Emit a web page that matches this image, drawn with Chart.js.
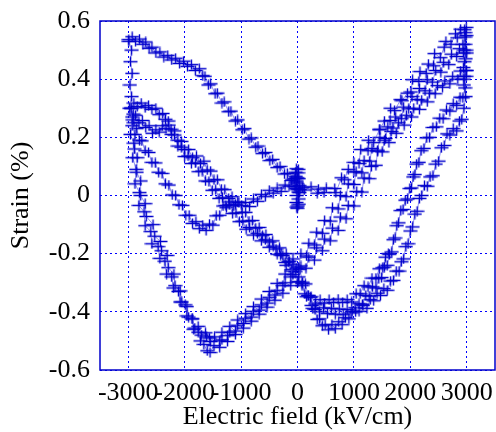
<!DOCTYPE html>
<html>
<head>
<meta charset="utf-8">
<script src="https://cdn.jsdelivr.net/npm/chart.js@4/dist/chart.umd.min.js"></script>
<style>
  html, body { margin: 0; padding: 0; background: #ffffff; }
  #wrap { width: 496px; height: 432px; }
</style>
</head>
<body>
<div id="wrap"><canvas id="c" width="496" height="432"></canvas></div>
<script>
// Butterfly strain loop: electric field (kV/cm) vs strain (%), each branch as [field, strain] pairs.
const xTicks = [-3000, -2000, -1000, 0, 1000, 2000, 3000];
const yTicks = [-0.6, -0.4, -0.2, 0, 0.2, 0.4, 0.6];

const originCluster = [
  [-20,0.092],[10,0.078],[-30,0.066],[25,0.058],[-15,0.046],[30,0.034],[-25,0.024],[15,0.012],
  [-10,0.0],[20,-0.012],[-20,-0.024],[5,-0.036],[-5,-0.044],[40,0.02],[-45,0.03],[0,0.06]
];

const virginRise = [
  [0,0.03],[-35,0.08],[25,-0.03],[-20,0.06],[35,0.01],[-10,-0.04],[15,0.09],[-5,0.02],[90,0.027],
  [120,0.019],[240,0.03],[350,0.008],[370,0.022],[470,0.01],[510,0.026],[660,0.024],[680,0.01],
  [780,0.061],[830,0.054],[900,0.09],[1000,0.081],[1000,0.114],[1090,0.11],[1120,0.158],[1250,0.154],
  [1260,0.19],[1350,0.182],[1450,0.226],[1460,0.228],[1540,0.256],[1640,0.258],[1650,0.3],
  [1720,0.292],[1830,0.33],[1850,0.326],[1950,0.352],[2010,0.356],[2040,0.398],[2150,0.392],
  [2170,0.426],[2280,0.42],[2320,0.452],[2410,0.446],[2430,0.488],[2530,0.474],[2600,0.51],
  [2630,0.53],[2720,0.52],[2800,0.556],[2830,0.542],[2890,0.572],[2970,0.56],[2990,0.578]
];

const fallMid = [
  [2970,0.545],[2930,0.52],[2990,0.5],[2940,0.49],[2870,0.505],[2820,0.478],[2730,0.486],[2680,0.45],
  [2590,0.458],[2540,0.424],[2450,0.43],[2390,0.39],[2300,0.398],[2260,0.36],[2160,0.368],[2120,0.33],
  [2030,0.34],[1970,0.298],[1880,0.304],[1840,0.264],[1740,0.27],[1690,0.232],[1600,0.236],[1560,0.196],
  [1460,0.2],[1420,0.156],[1320,0.162],[1280,0.118],[1180,0.12],[1140,0.078],[1040,0.082],[1000,0.038],
  [900,0.04],[860,-0.004],[760,0.0],[720,-0.046],[620,-0.042],[580,-0.088],[480,-0.086],[440,-0.13],
  [340,-0.126],[300,-0.17],[200,-0.164],[160,-0.208],[60,-0.2],[20,-0.246],[-80,-0.236],[-120,-0.28],
  [-220,-0.27],[-260,-0.31],[-360,-0.302],[-400,-0.342],[-500,-0.33],[-540,-0.37],[-640,-0.356],
  [-680,-0.394],[-780,-0.382],[-820,-0.418],[-920,-0.406],[-960,-0.44],[-1060,-0.428],[-1100,-0.466],
  [-1200,-0.45],[-1240,-0.482],[-1340,-0.47],[-1380,-0.5],[-1470,-0.486],[-1540,-0.502],[-1610,-0.486]
];

const fallLow = [
  [2990,0.43],[2950,0.41],[2890,0.428],[2840,0.4],[2750,0.41],[2700,0.384],[2610,0.394],[2570,0.372],
  [2480,0.378],[2440,0.35],[2340,0.352],[2300,0.322],[2200,0.328],[2160,0.296],[2060,0.3],[2020,0.27],
  [1930,0.276],[1890,0.242],[1790,0.25],[1750,0.214],[1660,0.22],[1620,0.182],[1540,0.19],[1500,0.15],
  [1420,0.152],[1390,0.104],[1310,0.1],[1270,0.058],[1180,0.06],[1140,0.012],[1050,0.014],[1000,-0.036],
  [900,-0.034],[860,-0.08],[760,-0.074],[720,-0.12],[620,-0.112],[580,-0.156],[480,-0.15],[440,-0.19],
  [340,-0.18],[300,-0.222],[200,-0.212],[150,-0.25],[60,-0.242],[20,-0.28],[-80,-0.272],[-120,-0.31],
  [-220,-0.3],[-260,-0.336],[-360,-0.326],[-400,-0.36],[-500,-0.35],[-540,-0.384],[-640,-0.376],
  [-680,-0.408],[-780,-0.398],[-820,-0.432],[-920,-0.422],[-960,-0.456],[-1060,-0.446],[-1100,-0.478],
  [-1200,-0.47],[-1240,-0.502],[-1340,-0.496],[-1380,-0.522],[-1480,-0.516],[-1550,-0.54]
];

const riseLeftOuter = [
  [-1600,-0.534],[-1660,-0.512],[-1720,-0.5],[-1760,-0.47],[-1840,-0.46],[-1870,-0.424],[-1960,-0.414],
  [-1990,-0.376],[-2080,-0.366],[-2110,-0.33],[-2200,-0.318],[-2230,-0.28],[-2320,-0.27],[-2350,-0.226],
  [-2440,-0.216],[-2470,-0.176],[-2580,-0.166],[-2600,-0.124],[-2700,-0.104],[-2720,-0.056],
  [-2810,-0.034],[-2800,0.01],[-2880,0.04],[-2860,0.09],[-2920,0.13],[-2900,0.18],[-2960,0.21],
  [-2920,0.26],[-2980,0.3],[-2940,0.34],[-2970,0.38],[-2930,0.42],[-2960,0.46],[-2940,0.5],[-2990,0.53]
];

const topLeftOuter = [
  [-2990,0.536],[-2930,0.546],[-2870,0.53],[-2800,0.538],[-2740,0.52],[-2690,0.528],[-2630,0.506],
  [-2580,0.51],[-2510,0.49],[-2440,0.494],[-2370,0.476],[-2300,0.482],[-2230,0.466],[-2160,0.472],
  [-2090,0.454],[-2020,0.462],[-1950,0.444],[-1880,0.45],[-1810,0.43],[-1740,0.436],[-1680,0.412],
  [-1640,0.41],[-1580,0.38],[-1540,0.384],[-1460,0.35],[-1420,0.352],[-1340,0.318],[-1300,0.322],
  [-1220,0.288],[-1180,0.29],[-1100,0.256],[-1060,0.26],[-980,0.226],[-940,0.23],[-860,0.194],
  [-820,0.198],[-740,0.166],[-700,0.17],[-620,0.144],[-570,0.148],[-490,0.12],[-440,0.124],
  [-360,0.096],[-310,0.1],[-230,0.074],[-180,0.076],[-110,0.052],[-50,0.058],[0,0.04]
];

const riseLeftInner = [
  [-1560,-0.49],[-1630,-0.472],[-1700,-0.48],[-1760,-0.45],[-1820,-0.456],[-1860,-0.424],[-1930,-0.418],
  [-1960,-0.382],[-2050,-0.366],[-2080,-0.328],[-2170,-0.31],[-2190,-0.27],[-2290,-0.248],[-2310,-0.206],
  [-2410,-0.19],[-2430,-0.158],[-2530,-0.14],[-2560,-0.1],[-2680,-0.072],[-2700,-0.028],[-2780,0.0],
  [-2780,0.05],[-2850,0.08],[-2840,0.13],[-2890,0.16],[-2880,0.21],[-2930,0.24],[-2910,0.28],[-2950,0.3]
];

const diagUpper = [
  [-2950,0.3],[-2900,0.318],[-2840,0.306],[-2770,0.318],[-2700,0.302],[-2640,0.31],[-2580,0.296],
  [-2510,0.3],[-2450,0.278],[-2390,0.282],[-2340,0.262],[-2290,0.256],[-2240,0.228],[-2180,0.222],
  [-2120,0.19],[-2060,0.186],[-2000,0.158],[-1930,0.158],[-1860,0.13],[-1790,0.136],[-1720,0.11],
  [-1660,0.118],[-1600,0.088],[-1540,0.084],[-1480,0.054],[-1420,0.054],[-1350,0.022],[-1290,0.02],
  [-1220,-0.01],[-1160,-0.004],[-1100,-0.03],[-1040,-0.024],[-980,-0.058],[-920,-0.058],[-860,-0.088],
  [-800,-0.086],[-740,-0.112],[-680,-0.11],[-620,-0.138],[-560,-0.134],[-500,-0.16],[-440,-0.156],
  [-380,-0.184],[-320,-0.18],[-260,-0.206],[-200,-0.2],[-140,-0.226],[-80,-0.218],[-20,-0.25],
  [40,-0.254],[90,-0.298],[140,-0.304],[190,-0.344],[230,-0.35],[270,-0.388],[310,-0.392],[350,-0.426],
  [390,-0.424],[440,-0.448],[490,-0.444],[550,-0.462],[610,-0.444],[670,-0.458],[730,-0.434],[790,-0.444],
  [850,-0.42],[910,-0.424],[970,-0.398],[1030,-0.4],[1090,-0.372],[1150,-0.374],[1210,-0.344],
  [1270,-0.346],[1330,-0.314],[1390,-0.318],[1440,-0.286],[1490,-0.282],[1540,-0.246],[1590,-0.24],
  [1630,-0.202],[1670,-0.194],[1700,-0.152],[1730,-0.146],[1760,-0.104],[1790,-0.094],[1830,-0.052],
  [1870,-0.048],[1910,-0.016],[1950,-0.012],[1990,0.024],[2020,0.026],[2050,0.064],[2080,0.072],
  [2110,0.108],[2150,0.114],[2190,0.154],[2240,0.162],[2290,0.198],[2340,0.2],[2400,0.234],[2460,0.236],
  [2520,0.266],[2580,0.264],[2640,0.294],[2700,0.29],[2760,0.316],[2820,0.31],[2880,0.338],[2930,0.336],
  [2970,0.37],[2950,0.4],[2990,0.43],[2960,0.46],[3000,0.49],[2970,0.52],[2990,0.55],[2960,0.57]
];

const diagLower = [
  [-2930,0.27],[-2870,0.276],[-2810,0.25],[-2750,0.258],[-2690,0.234],[-2630,0.24],[-2570,0.214],
  [-2510,0.226],[-2450,0.218],[-2390,0.24],[-2330,0.23],[-2280,0.242],[-2230,0.21],[-2180,0.208],
  [-2120,0.17],[-2060,0.166],[-2000,0.134],[-1940,0.136],[-1880,0.11],[-1810,0.112],[-1750,0.082],
  [-1690,0.084],[-1630,0.05],[-1570,0.048],[-1510,0.018],[-1450,0.02],[-1390,-0.01],[-1330,-0.006],
  [-1270,-0.034],[-1210,-0.032],[-1150,-0.062],[-1090,-0.06],[-1030,-0.09],[-970,-0.088],[-910,-0.116],
  [-850,-0.11],[-780,-0.136],[-710,-0.13],[-640,-0.156],[-570,-0.152],[-500,-0.178],[-430,-0.174],
  [-360,-0.202],[-290,-0.2],[-220,-0.23],[-160,-0.228],[-100,-0.26],[-40,-0.262],[20,-0.296],[80,-0.302],
  [130,-0.338],[190,-0.344],[250,-0.378],[320,-0.376],[390,-0.4],[460,-0.386],[530,-0.406],[600,-0.388],
  [670,-0.408],[740,-0.39],[810,-0.41],[880,-0.392],[950,-0.404],[1020,-0.386],[1090,-0.398],
  [1160,-0.378],[1230,-0.388],[1290,-0.358],[1350,-0.362],[1410,-0.336],[1470,-0.344],[1530,-0.32],
  [1590,-0.326],[1650,-0.294],[1700,-0.292],[1750,-0.26],[1800,-0.26],[1840,-0.228],[1880,-0.218],
  [1920,-0.176],[1960,-0.166],[2000,-0.122],[2040,-0.108],[2080,-0.064],[2120,-0.054],[2160,-0.01],
  [2200,0.0],[2250,0.034],[2300,0.032],[2350,0.064],[2400,0.068],[2450,0.108],[2500,0.118],[2550,0.164],
  [2600,0.172],[2650,0.212],[2700,0.208],[2760,0.23],[2820,0.222],[2870,0.256],[2910,0.262],[2950,0.3],
  [2980,0.34],[2950,0.38],[2990,0.41],[2940,0.44],[2980,0.47],[2950,0.5]
];

const dipInner = [
  [-300,-0.205],[-200,-0.24],[-100,-0.254],[0,-0.298],[80,-0.31],[160,-0.348],[240,-0.348],[320,-0.37],
  [400,-0.358],[480,-0.37],[560,-0.358],[640,-0.368],[720,-0.356],[800,-0.368],[880,-0.358],[960,-0.366],
  [1040,-0.338],[1110,-0.338],[1180,-0.31],[1250,-0.314],[1320,-0.284],[1390,-0.284],[1450,-0.252],
  [1510,-0.248],[1560,-0.212],[1610,-0.2]
];

const innerLobe = [
  [-2900,0.25],[-2850,0.23],[-2800,0.19],[-2760,0.188],[-2700,0.154],[-2640,0.148],[-2580,0.114],
  [-2520,0.112],[-2460,0.08],[-2400,0.076],[-2340,0.04],[-2280,0.036],[-2220,0.002],[-2160,0.0],
  [-2100,-0.032],[-2040,-0.034],[-1980,-0.068],[-1920,-0.068],[-1860,-0.096],[-1800,-0.09],
  [-1740,-0.114],[-1680,-0.102],[-1620,-0.12],[-1560,-0.098],[-1500,-0.102],[-1440,-0.07],[-1380,-0.068],
  [-1320,-0.036],[-1260,-0.042],[-1200,-0.022],[-1130,-0.036],[-1060,-0.022],[-990,-0.034],[-920,-0.024],
  [-850,-0.038],[-780,-0.012],[-710,-0.02],[-640,0.004],[-570,-0.004],[-500,0.018],[-430,0.008],
  [-360,0.026],[-290,0.014],[-220,0.036],[-150,0.032],[-80,0.056],[-20,0.05]
];

const branches = [originCluster, virginRise, fallMid, fallLow, riseLeftOuter, topLeftOuter,
                  riseLeftInner, diagUpper, diagLower, dipInner, innerLobe];

// Marker: a small x/y error-bar cross
function makeMarker() {
  const m = document.createElement('canvas');
  m.width = 15; m.height = 11;
  const g = m.getContext('2d');
  g.strokeStyle = '#0000cc';
  g.lineWidth = 1.4;
  g.beginPath();
  g.moveTo(0.5, 5.5); g.lineTo(14.5, 5.5);
  g.moveTo(7.5, 0.5); g.lineTo(7.5, 10.5);
  g.stroke();
  return m;
}

const serif = "'Liberation Serif', 'Times New Roman', serif";

const frame = {
  id: 'frame',
  afterDraw(chart) {
    const { ctx, chartArea: a } = chart;
    ctx.save();
    ctx.strokeStyle = '#0000cc';
    ctx.lineWidth = 1.5;
    ctx.strokeRect(a.left, a.top, a.right - a.left, a.bottom - a.top);
    ctx.restore();
  }
};

function draw() {
  const marker = makeMarker();
  new Chart(document.getElementById('c'), {
    type: 'line',
    data: {
      datasets: branches.map(b => ({
        data: b.map(p => ({ x: p[0], y: p[1] })),
        showLine: true,
        borderColor: 'rgba(100,100,235,0.7)',
        borderWidth: 1,
        pointStyle: marker,
        pointRadius: 4,
        tension: 0,
        fill: false
      }))
    },
    options: {
      responsive: false,
      animation: false,
      devicePixelRatio: 1,
      layout: { autoPadding: false, padding: { top: 21, right: 1, left: 0, bottom: 0 } },
      plugins: { legend: { display: false }, tooltip: { enabled: false } },
      scales: {
        x: {
          type: 'linear',
          min: -3500, max: 3500,
          afterBuildTicks: s => { s.ticks = xTicks.map(v => ({ value: v })); },
          afterFit: s => { s.height = 62; s.paddingLeft = 0; s.paddingRight = 0; },
          grid: { color: '#0000ff', lineWidth: 1, drawTicks: true, tickLength: 8, tickColor: 'rgba(0,0,0,0)' },
          border: { display: false, dash: [2, 3] },
          ticks: {
            color: '#000', padding: 0, maxRotation: 0, autoSkip: false,
            font: { family: serif, size: 26 },
            callback: v => String(v)
          },
          title: {
            display: true, text: 'Electric field (kV/cm)', color: '#000',
            font: { family: serif, size: 26 }, padding: { top: 0, bottom: -1 }
          }
        },
        y: {
          type: 'linear',
          min: -0.6, max: 0.6,
          afterBuildTicks: s => { s.ticks = yTicks.map(v => ({ value: v })); },
          afterFit: s => { s.width = 100; s.paddingTop = 0; s.paddingBottom = 0; },
          grid: { color: '#0000ff', lineWidth: 1, drawTicks: true, tickLength: 10, tickColor: 'rgba(0,0,0,0)' },
          border: { display: false, dash: [2, 3] },
          ticks: {
            color: '#000', padding: 0,
            font: { family: serif, size: 26 },
            callback: v => (Math.abs(v) < 1e-9 ? '0' : v.toFixed(1))
          },
          title: {
            display: true, text: 'Strain (%)', color: '#000',
            font: { family: serif, size: 26 }, padding: { top: 6, bottom: 0 }
          }
        }
      }
    },
    plugins: [frame]
  });
}

document.fonts.load("26px 'Liberation Serif'").then(draw, draw);
</script>
</body>
</html>
